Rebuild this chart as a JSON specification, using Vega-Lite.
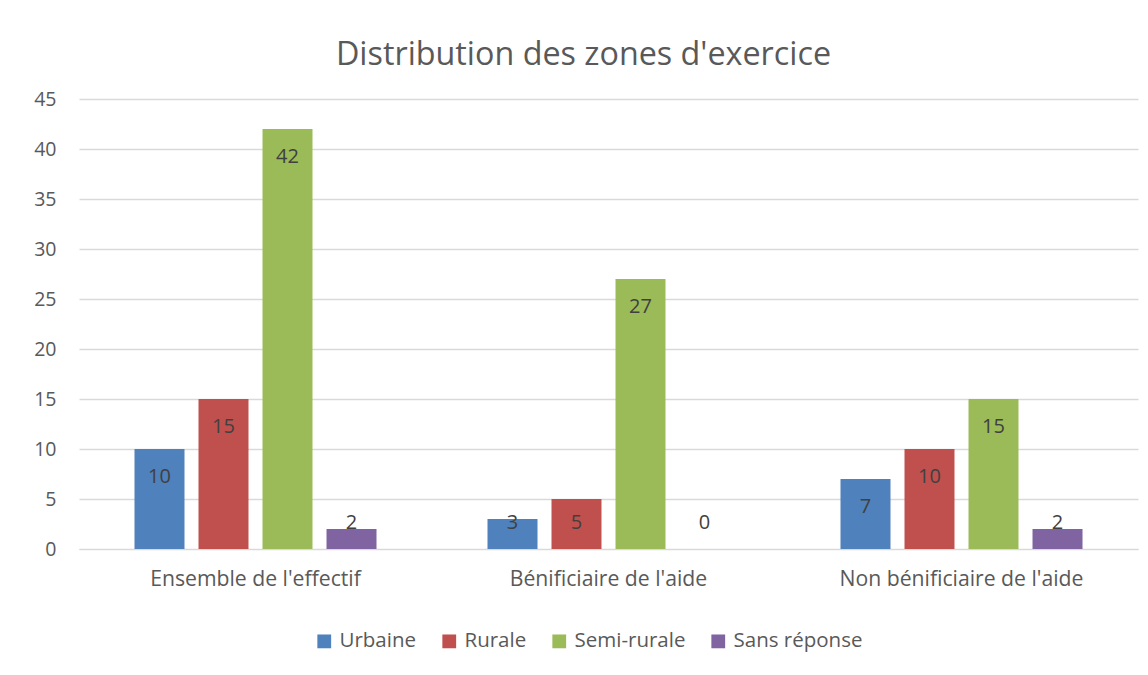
{
  "$schema": "https://vega.github.io/schema/vega-lite/v6.json",
  "autosize": "none",
  "width": 1059,
  "height": 450,
  "padding": {"left": 79, "top": 99, "right": 10, "bottom": 126},
  "background": "white",
  "title": {
    "text": "Distribution des zones d'exercice",
    "font": "Open Sans",
    "fontSize": 32.3,
    "fontWeight": "normal",
    "color": "#595959",
    "anchor": "middle",
    "dx": -25,
    "offset": 18
  },
  "data": {
    "values": [
      {"groupe": "Ensemble de l'effectif", "zone": "Urbaine", "n": 10},
      {"groupe": "Ensemble de l'effectif", "zone": "Rurale", "n": 15},
      {"groupe": "Ensemble de l'effectif", "zone": "Semi-rurale", "n": 42},
      {"groupe": "Ensemble de l'effectif", "zone": "Sans réponse", "n": 2},
      {"groupe": "Bénificiaire de l'aide", "zone": "Urbaine", "n": 3},
      {"groupe": "Bénificiaire de l'aide", "zone": "Rurale", "n": 5},
      {"groupe": "Bénificiaire de l'aide", "zone": "Semi-rurale", "n": 27},
      {"groupe": "Bénificiaire de l'aide", "zone": "Sans réponse", "n": 0},
      {"groupe": "Non bénificiaire de l'aide", "zone": "Urbaine", "n": 7},
      {"groupe": "Non bénificiaire de l'aide", "zone": "Rurale", "n": 10},
      {"groupe": "Non bénificiaire de l'aide", "zone": "Semi-rurale", "n": 15},
      {"groupe": "Non bénificiaire de l'aide", "zone": "Sans réponse", "n": 2}
    ]
  },
  "encoding": {
    "x": {
      "field": "groupe",
      "type": "nominal",
      "sort": null,
      "scale": {"paddingInner": 0, "paddingOuter": 0},
      "axis": {
        "title": null,
        "labelAngle": 0,
        "labelFont": "Open Sans",
        "labelFontSize": 21.2,
        "labelColor": "#595959",
        "labelPadding": 19,
        "labelLimit": 0,
        "ticks": false,
        "domainColor": "#d9d9d9",
        "domainWidth": 1
      }
    },
    "xOffset": {
      "field": "zone",
      "type": "nominal",
      "sort": ["Urbaine", "Rurale", "Semi-rurale", "Sans réponse"],
      "scale": {"paddingInner": 0.21875, "paddingOuter": 0.867}
    },
    "color": {
      "field": "zone",
      "type": "nominal",
      "sort": ["Urbaine", "Rurale", "Semi-rurale", "Sans réponse"],
      "scale": {
        "domain": ["Urbaine", "Rurale", "Semi-rurale", "Sans réponse"],
        "range": ["#4F81BD", "#C0504D", "#9BBB59", "#8064A2"]
      },
      "legend": {
        "title": null,
        "orient": "none",
        "direction": "horizontal",
        "legendX": 235,
        "legendY": 532,
        "symbolType": "square",
        "symbolSize": 190,
        "symbolStrokeWidth": 0,
        "labelFont": "Open Sans",
        "labelFontSize": 20.5,
        "labelColor": "#595959",
        "labelOffset": 5,
        "labelLimit": 0,
        "columnPadding": 22
      }
    }
  },
  "layer": [
    {
      "mark": {"type": "bar"},
      "encoding": {
        "y": {
          "field": "n",
          "type": "quantitative",
          "scale": {"domain": [0, 45], "nice": false},
          "axis": {
            "title": null,
            "values": [0, 5, 10, 15, 20, 25, 30, 35, 40, 45],
            "labelFont": "Open Sans",
            "labelFontSize": 19.5,
            "labelColor": "#595959",
            "labelPadding": 23,
            "ticks": false,
            "domain": false,
            "gridColor": "#d9d9d9",
            "gridWidth": 1.3
          }
        }
      }
    },
    {
      "transform": [
        {"calculate": "max(datum.n - 2.8, 2.6)", "as": "labelPos"}
      ],
      "mark": {
        "type": "text",
        "font": "Open Sans",
        "fontSize": 20,
        "baseline": "middle",
        "align": "center"
      },
      "encoding": {
        "y": {"field": "labelPos", "type": "quantitative"},
        "text": {"field": "n", "type": "quantitative"},
        "color": {"value": "#404040"}
      }
    }
  ],
  "config": {
    "view": {"stroke": null}
  }
}
